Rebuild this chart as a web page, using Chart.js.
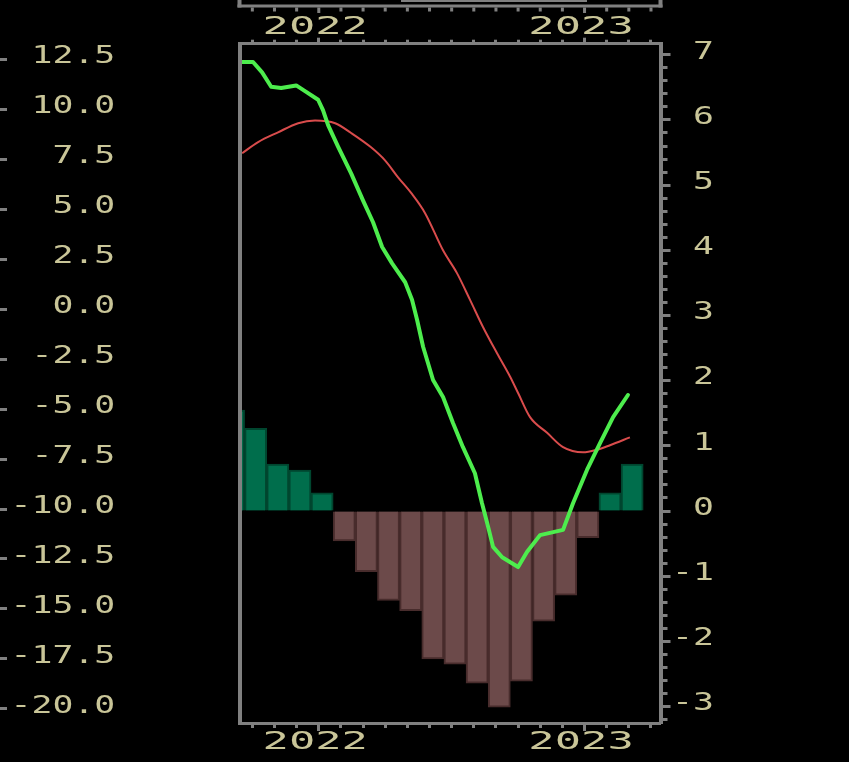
<!DOCTYPE html>
<html>
<head>
<meta charset="utf-8">
<script src="https://cdn.jsdelivr.net/npm/chart.js@4/dist/chart.umd.min.js"></script>
<style>
html,body{margin:0;padding:0;background:#000;}
canvas{display:block;}
</style>
</head>
<body>
<canvas id="c" width="849" height="762"></canvas>
<script>
// ---------------- data (month index: 0 = Jan 2022) ----------------
const barMonths = ['2021-09','2021-10','2021-11','2021-12','2022-01','2022-02','2022-03','2022-04','2022-05','2022-06',
                   '2022-07','2022-08','2022-09','2022-10','2022-11','2022-12','2023-01','2023-02','2023-03'];
const histValues = [1.55, 1.27, 0.72, 0.63, 0.28, -0.46, -0.93, -1.37, -1.53, -2.27,
                    -2.35, -2.64, -3.01, -2.61, -1.69, -1.29, -0.41, 0.28, 0.72];

const macdX = [-3.46,-2.97,-2.56,-2.15,-1.70,-1.02,-0.57,-0.03,0.19,0.42,0.87,1.46,1.99,2.45,2.86,3.31,3.90,4.21,4.44,4.71,
               5.16,5.61,6.06,6.51,7.05,7.37,7.60,7.87,8.28,9.00,9.40,9.99,11.03,11.48,12.11,12.70,13.29,13.96];
const macdY = [6.89,6.89,6.73,6.51,6.49,6.53,6.43,6.31,6.15,5.92,5.59,5.18,4.77,4.43,4.05,3.80,3.51,3.24,2.93,2.52,
               2.01,1.75,1.35,0.98,0.58,0.12,-0.18,-0.55,-0.71,-0.86,-0.63,-0.37,-0.29,0.12,0.63,1.04,1.44,1.78];

const signalX = [-3.46,-2.74,-1.84,-0.93,-0.17,0.74,1.46,2.36,2.99,3.58,4.17,4.80,5.61,6.24,6.83,7.42,8.05,8.64,9.00,9.54,
                 10.31,11.03,11.93,12.56,13.15,14.05];
const signalY = [5.49,5.66,5.81,5.95,5.99,5.95,5.80,5.58,5.38,5.12,4.88,4.57,4.00,3.65,3.24,2.82,2.42,2.06,1.81,1.44,
                 1.20,0.98,0.90,0.94,1.01,1.13];

const yearTickLabels = {0: '2022', 12: '2023'};
const rightTickLabels = ['-3','-2','-1','0','1','2','3','4','5','6','7'];

// ---------------- styling ----------------
const GRAY = '#808080';
const TXT = '#c9c598';
const FONT = 'DejaVu Sans Mono';
const Y_TEXT_STRETCH = 1.45;
const X_TEXT_STRETCH = 1.75;

const X_MIN = -3.58, X_MAX = 15.43;
const YR_MIN = -3.26, YR_MAX = 7.17;
const YL_MIN = -20.73, YL_MAX = 13.28;
const BAR_SHIFT = 0.15;

function monthIndex(s){ const [y,m] = s.split('-').map(Number); return (y-2022)*12 + (m-1); }

const fixW = w => s => { s.width = w; s.paddingTop = 0; s.paddingBottom = 0; s.paddingLeft = 0; s.paddingRight = 0; };
const fixH = h => s => { s.height = h; s.paddingTop = 0; s.paddingBottom = 0; s.paddingLeft = 0; s.paddingRight = 0; };

function xAxis(position, weight, labeled, tickLen, height, pad){
  return {
    type: 'linear', position, weight, min: X_MIN, max: X_MAX, offset: false,
    grid: {display: true, offset: false, drawOnChartArea: false, drawTicks: true, tickLength: tickLen, tickWidth: 3, tickColor: GRAY},
    border: {display: labeled, color: GRAY, width: 3, z: 1},
    ticks: {
      stepSize: labeled ? 12 : 1, includeBounds: false, autoSkip: false, maxRotation: 0, minRotation: 0,
      font: {family: FONT, size: 25, lineHeight: 1}, color: TXT, padding: pad, z: 1, labelOffset: -3.5,
      callback: v => labeled ? (yearTickLabels[Math.round(v)] || '') : ''
    },
    afterFit: fixH(height)
  };
}

// horizontally stretched canvas text (the reference uses a wide pixel font)
let textStretch = 1;
const stretchPlugin = {
  id: 'stretch',
  afterInit(chart){
    const ctx = chart.ctx;
    const proto = CanvasRenderingContext2D.prototype;
    ctx.fillText = function(t, x, y){
      this.save();
      this.translate(x, y);
      this.scale(textStretch, 1);
      proto.fillText.call(this, t, 0, 0);
      this.restore();
    };
  },
  beforeDraw(){ textStretch = Y_TEXT_STRETCH; },
  afterDatasetsDraw(){ textStretch = X_TEXT_STRETCH; },
  afterDraw(chart){
    textStretch = 1;
    const ctx = chart.ctx, ca = chart.chartArea, sx = chart.scales.x;
    // fragment of the panel above
    ctx.save();
    ctx.strokeStyle = GRAY;
    ctx.lineWidth = 3;
    ctx.beginPath(); ctx.moveTo(ca.left - 2, 6); ctx.lineTo(ca.right + 2, 6); ctx.stroke();
    ctx.lineWidth = 4;
    ctx.beginPath(); ctx.moveTo(ca.left, 0); ctx.lineTo(ca.left, 7.5); ctx.moveTo(ca.right, 0); ctx.lineTo(ca.right, 7.5); ctx.stroke();
    ctx.lineWidth = 3;
    ctx.beginPath();
    for (let m = Math.ceil(X_MIN); m <= Math.floor(X_MAX); m++) {
      const px = sx.getPixelForValue(m);
      ctx.moveTo(px, 7.5); ctx.lineTo(px, m % 12 === 0 ? 13 : 11.5);
    }
    ctx.stroke();
    ctx.lineWidth = 2;
    ctx.beginPath(); ctx.moveTo(401, 1); ctx.lineTo(587, 1); ctx.stroke();
    ctx.restore();
  }
};

const barData = barMonths.map((m, i) => ({x: monthIndex(m) + BAR_SHIFT, y: histValues[i]}));

new Chart(document.getElementById('c'), {
  type: 'bar',
  data: {
    datasets: [
      {
        type: 'line', label: 'MACD', xAxisID: 'x', yAxisID: 'y', order: 1,
        data: macdX.map((x, i) => ({x, y: macdY[i]})),
        borderColor: '#4ded4d', borderWidth: 4, pointRadius: 0, tension: 0, fill: false,
        borderJoinStyle: 'round', borderCapStyle: 'round'
      },
      {
        type: 'line', label: 'Signal', xAxisID: 'x', yAxisID: 'y', order: 2,
        data: signalX.map((x, i) => ({x, y: signalY[i]})),
        borderColor: '#d94c4c', borderWidth: 2, pointRadius: 0, cubicInterpolationMode: 'monotone', fill: false
      },
      {
        type: 'bar', label: 'Histogram', xAxisID: 'x', yAxisID: 'y', order: 3,
        data: barData,
        backgroundColor: histValues.map(v => v >= 0 ? '#006e4c' : '#6c4a4a'),
        borderColor: histValues.map(v => v >= 0 ? '#00462f' : '#482c2c'),
        borderWidth: 2, barPercentage: 1, categoryPercentage: 1, clip: 0
      }
    ]
  },
  options: {
    responsive: false, animation: false,
    layout: {padding: {left: 0, right: 135, top: 0, bottom: 0}},
    plugins: {legend: {display: false}, tooltip: {enabled: false}},
    scales: {
      x: xAxis('bottom', 1, true, 7.5, 38.5, -1.5),
      xMinor: xAxis('bottom', 0, false, 4.5, 0, 0),
      xTop: xAxis('top', 1, true, 6, 43.7, -2.5),
      xTopMinor: xAxis('top', 0, false, 4, 0, 0),
      y: {
        type: 'linear', position: 'right', weight: 1, min: YR_MIN, max: YR_MAX,
        grid: {display: true, drawOnChartArea: false, drawTicks: true, tickLength: 10, tickWidth: 3, tickColor: GRAY},
        border: {display: true, color: GRAY, width: 4, z: 1},
        ticks: {stepSize: 1, includeBounds: false, autoSkip: false, crossAlign: 'far', labelOffset: -2.5,
                font: {family: FONT, size: 24, lineHeight: 1}, color: TXT,
                callback: v => rightTickLabels[Math.round(v) + 3]},
        afterFit: fixW(53.5)
      },
      yMinor: {
        type: 'linear', position: 'right', weight: 0, min: YR_MIN, max: YR_MAX,
        grid: {display: true, drawOnChartArea: false, drawTicks: true, tickLength: 7, tickWidth: 3, tickColor: GRAY},
        border: {display: false},
        ticks: {stepSize: 0.2, includeBounds: false, autoSkip: false, callback: () => ''},
        afterFit: fixW(0)
      },
      yL: {
        type: 'linear', position: 'left', weight: 0, min: YL_MIN, max: YL_MAX,
        grid: {display: true, drawOnChartArea: false, drawTicks: false},
        border: {display: true, color: GRAY, width: 4, z: 1},
        ticks: {stepSize: 2.5, includeBounds: false, autoSkip: false, crossAlign: 'near', padding: 124.2, labelOffset: -2.5,
                font: {family: FONT, size: 24, lineHeight: 1}, color: TXT,
                callback: v => v.toFixed(1)},
        afterFit: fixW(232.5)
      },
      yLt: {
        type: 'linear', position: 'left', weight: 1, min: YL_MIN, max: YL_MAX,
        grid: {display: true, drawOnChartArea: false, drawTicks: true, tickLength: 7, tickWidth: 3, tickColor: GRAY},
        border: {display: false},
        ticks: {stepSize: 2.5, includeBounds: false, autoSkip: false, callback: () => ''},
        afterFit: fixW(7)
      }
    }
  },
  plugins: [stretchPlugin]
});
</script>
</body>
</html>
